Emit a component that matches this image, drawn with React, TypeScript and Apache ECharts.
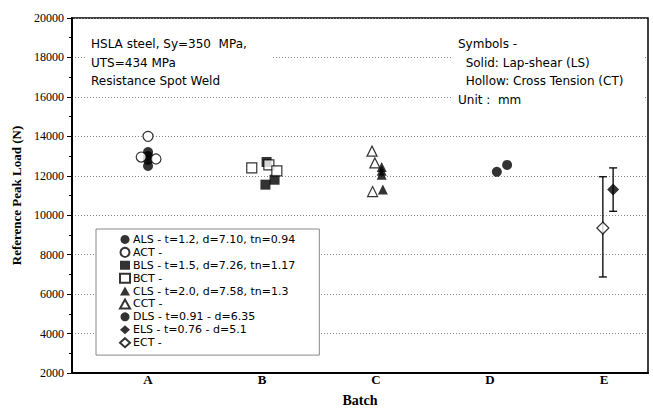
import React, { useEffect, useRef } from "react";
import * as echarts from "echarts";

const categories = ["A", "B", "C", "D", "E"];
const yTicks = { min: 2000, max: 20000, step: 2000 };

// [batch position, peak load (N)]
const ALS = [[1.0, 13200], [1.0, 13000], [1.0, 12800], [1.0, 12500]];
const ACT = [[1.0, 14000], [0.94, 12950], [1.07, 12850]];
const BLS = [[2.04, 12700], [2.11, 11800], [2.03, 11550]];
const BCT = [[1.91, 12400], [2.06, 12550], [2.13, 12250]];
const CLS = [[3.05, 12450], [3.05, 12250], [3.05, 12050], [3.06, 11300]];
const CCT = [[2.965, 13250], [2.99, 12650], [2.97, 11200]];
const DLS = [[4.06, 12200], [4.15, 12550]];
const ELS = [[5.08, 11300]];
const ECT = [[4.99, 9350]];
// [batch position, low, high]
const errorBars = [[4.99, 6870, 11950], [5.08, 10200, 12400]];

const seriesNames = [
  "ALS - t=1.2, d=7.10, tn=0.94",
  "ACT -",
  "BLS - t=1.5, d=7.26, tn=1.17",
  "BCT -",
  "CLS - t=2.0, d=7.58, tn=1.3",
  "CCT -",
  "DLS - t=0.91 - d=6.35",
  "ELS - t=0.76 - d=5.1",
  "ECT -",
];

const leftNote = ["HSLA steel, Sy=350  MPa,", "UTS=434 MPa", "Resistance Spot Weld"];
const rightNote = ["Symbols -", "  Solid: Lap-shear (LS)", "  Hollow: Cross Tension (CT)", "Unit :  mm"];

const SANS = "DejaVu Sans";
const SERIF = "Liberation Serif";

export default function App() {
  const ref = useRef<HTMLDivElement>(null);
  useEffect(() => {
    document.body.style.margin = "0";
    if (!ref.current) return;
    const chart = echarts.init(ref.current, null, { renderer: "svg" });
    const solid = { color: "#000" };
    const hollow = { color: "#fff", borderColor: "#000", borderWidth: 1.2 };
    const sc = (name: string, data: number[][], symbol: string, size: number, style: any) => ({
      type: "scatter",
      name,
      data,
      symbol,
      symbolSize: size,
      itemStyle: style,
      z: 3,
    });
    const lineGraphics: any[] = [];
    leftNote.forEach((t, i) =>
      lineGraphics.push({
        type: "text",
        x: 91,
        y: 44 + i * 18.5,
        z: 20,
        style: { text: t, font: `12px "${SANS}"`, fill: "#000", align: "left", verticalAlign: "middle" },
      })
    );
    rightNote.forEach((t, i) =>
      lineGraphics.push({
        type: "text",
        x: 458,
        y: 44 + i * 18.5,
        z: 20,
        style: { text: t, font: `12px "${SANS}"`, fill: "#000", align: "left", verticalAlign: "middle" },
      })
    );
    chart.setOption({
      animation: false,
      grid: {
        left: 72,
        right: 5,
        top: 18,
        bottom: 39,
        show: true,
        borderColor: "#000",
        borderWidth: 1.5,
      },
      legend: {
        orient: "vertical",
        left: 96,
        top: 229,
        data: seriesNames,
        itemWidth: 10,
        itemHeight: 9,
        itemGap: 0,
        padding: [4, 24, 6, 23],
        backgroundColor: "#fff",
        borderColor: "#888",
        borderWidth: 1,
        borderRadius: 0,
        textStyle: { fontFamily: SANS, fontSize: 11, color: "#000", lineHeight: 12.9, padding: [0, 0, 0, -2] },
      },
      graphic: [
        { type: "rect", x: 86, y: 34, z: 15, shape: { width: 186, height: 56 }, style: { fill: "#fff" } },
        { type: "rect", x: 452, y: 34, z: 15, shape: { width: 193, height: 74 }, style: { fill: "#fff" } },
        ...lineGraphics,
      ],
      xAxis: {
        type: "value",
        min: 0.333,
        max: 5.386,
        name: "Batch",
        nameLocation: "middle",
        nameGap: 20,
        nameTextStyle: { fontFamily: SERIF, fontWeight: "bold", fontSize: 14, color: "#000" },
        axisLine: { show: true, lineStyle: { color: "#000", width: 2 } },
        axisTick: { show: false },
        splitLine: { show: false },
        axisLabel: {
          customValues: [1, 2, 3, 4, 5],
          formatter: (v: number) => categories[Math.round(v) - 1] ?? "",
          fontFamily: SERIF,
          fontWeight: "bold",
          fontSize: 13,
          color: "#000",
          margin: 0,
        },
      },
      yAxis: {
        type: "value",
        min: yTicks.min,
        max: yTicks.max,
        interval: yTicks.step,
        name: "Reference Peak Load (N)",
        nameLocation: "middle",
        nameGap: 48,
        nameTextStyle: { fontFamily: SERIF, fontWeight: "bold", fontSize: 13, color: "#000" },
        axisLine: { show: true, lineStyle: { color: "#000", width: 2 } },
        axisTick: { show: true, inside: false, length: 5, lineStyle: { color: "#000" } },
        minorTick: { show: true, splitNumber: 2, length: 3, lineStyle: { color: "#000" } },
        splitLine: { show: true, lineStyle: { color: "#888", type: [1, 2], width: 1 } },
        axisLabel: {
          fontFamily: SERIF,
          fontSize: 12,
          color: "#000",
          margin: 8,
          formatter: (v: number) => String(v),
        },
      },
      series: [
        {
          type: "custom",
          name: "errors",
          z: 2,
          data: errorBars,
          encode: { x: 0, y: [1, 2] },
          renderItem: (params: any, api: any) => {
            const x = api.value(0);
            const lo = api.coord([x, api.value(1)]);
            const hi = api.coord([x, api.value(2)]);
            const w = 4;
            const st = { stroke: "#000", lineWidth: 1.3 };
            return {
              type: "group",
              children: [
                { type: "line", shape: { x1: lo[0], y1: lo[1], x2: hi[0], y2: hi[1] }, style: st },
                { type: "line", shape: { x1: lo[0] - w, y1: lo[1], x2: lo[0] + w, y2: lo[1] }, style: st },
                { type: "line", shape: { x1: hi[0] - w, y1: hi[1], x2: hi[0] + w, y2: hi[1] }, style: st },
              ],
            };
          },
        },
        sc(seriesNames[0], ALS, "circle", 10, solid),
        sc(seriesNames[1], ACT, "circle", 10, hollow),
        sc(seriesNames[2], BLS, "rect", 10, solid),
        sc(seriesNames[3], BCT, "rect", 10, hollow),
        sc(seriesNames[4], CLS, "triangle", 10, solid),
        sc(seriesNames[5], CCT, "triangle", 10, hollow),
        sc(seriesNames[6], DLS, "circle", 10, solid),
        sc(seriesNames[7], ELS, "diamond", 12, solid),
        sc(seriesNames[8], ECT, "diamond", 12, hollow),
      ],
    });
    return () => chart.dispose();
  }, []);
  return <div ref={ref} style={{ width: 653, height: 412 }} />;
}
